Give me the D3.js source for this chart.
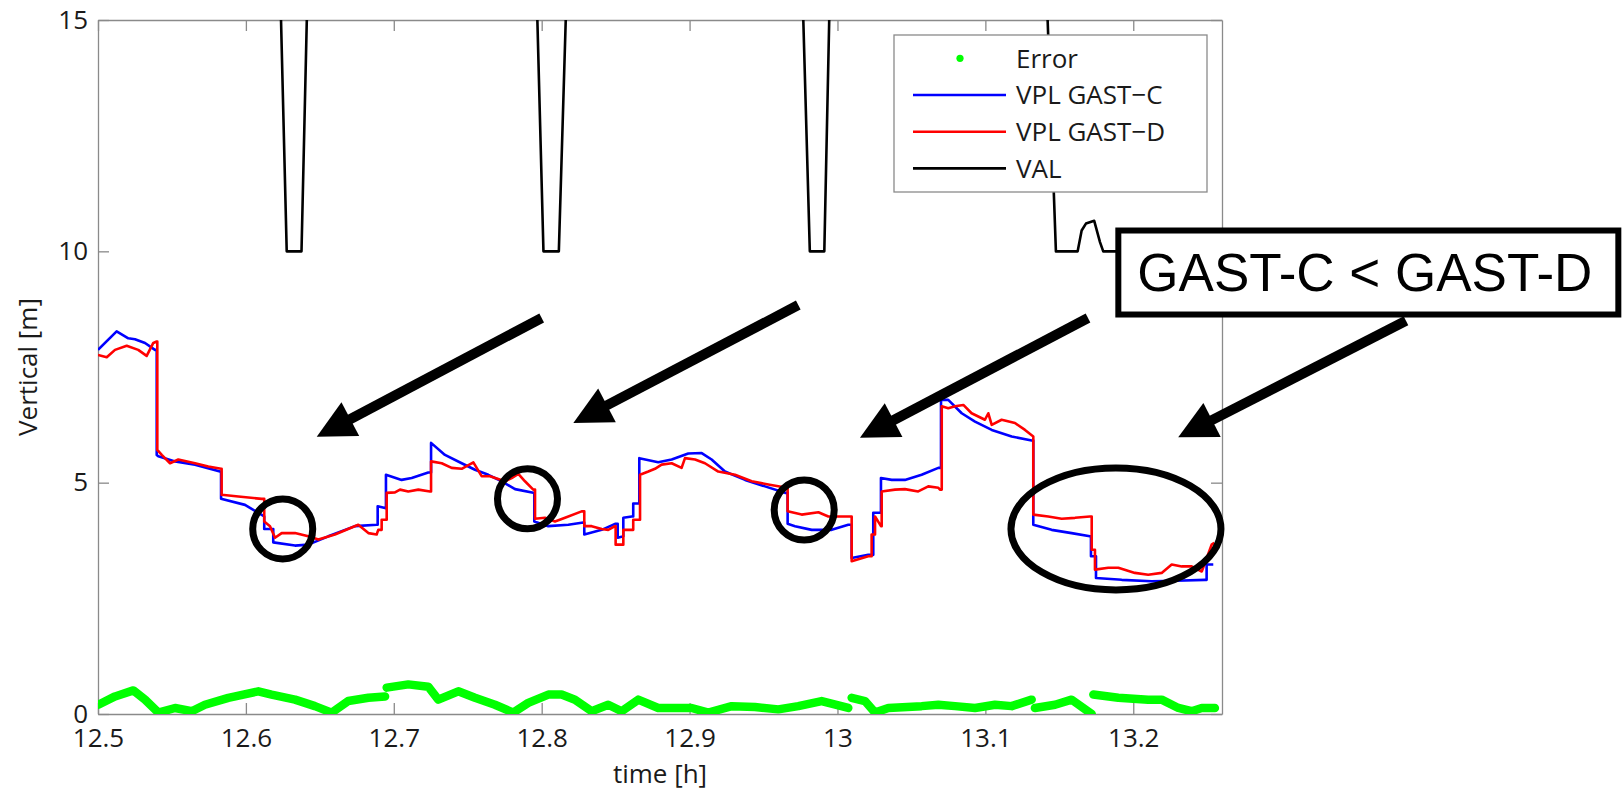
<!DOCTYPE html>
<html>
<head>
<meta charset="utf-8">
<title>VPL GAST-C vs GAST-D</title>
<script src="https://cdn.jsdelivr.net/npm/d3@7"></script>
<style>
    body { margin: 0; background: #fff; }
    #chart-area text { font-family: "Open Sans", "Noto Sans", sans-serif; fill: #1a1a1a; }
    .axis path, .axis line { stroke: #8a8a8a; stroke-width: 1.3px; }
</style>
</head>
<body>
<div id="chart-area"></div>
<script>

// axis ticks
var xTicks = [12.5, 12.6, 12.7, 12.8, 12.9, 13, 13.1, 13.2];
var yTicks = [0, 5, 10, 15];

// VPL GAST-C [time h, metres]
var vplGastC = [
    [12.500, 7.87], [12.5126, 8.27], [12.5205, 8.12], [12.525, 8.10], [12.5318, 8.02], [12.5385, 7.87],
    [12.5397, 7.87], [12.5397, 5.60], [12.5408, 5.57], [12.5521, 5.46], [12.5656, 5.39], [12.5825, 5.24],
    [12.5832, 5.24], [12.5832, 4.65], [12.5994, 4.52], [12.6124, 4.27], [12.6124, 4.00], [12.6185, 4.00],
    [12.6185, 3.71], [12.6332, 3.64], [12.6422, 3.66], [12.6557, 3.84], [12.6738, 4.06], [12.6884, 4.09],
    [12.6891, 4.09], [12.6891, 4.49], [12.6941, 4.45], [12.6947, 4.45], [12.6947, 5.17], [12.7053, 5.06],
    [12.7121, 5.10], [12.7233, 5.22], [12.7252, 5.22], [12.7252, 5.86], [12.7346, 5.60], [12.7459, 5.42],
    [12.7549, 5.28], [12.7639, 5.17], [12.7730, 5.03], [12.7820, 4.86], [12.7943, 4.78], [12.7950, 4.78],
    [12.7950, 4.16], [12.8045, 4.06], [12.8180, 4.09], [12.8281, 4.14], [12.8288, 4.14], [12.8288, 3.88],
    [12.8406, 3.98], [12.8496, 4.11], [12.8514, 4.11], [12.8514, 3.81], [12.8552, 3.84], [12.8552, 4.24],
    [12.8609, 4.27], [12.8619, 4.27], [12.8619, 4.55], [12.8660, 4.55], [12.8660, 5.53], [12.8788, 5.44],
    [12.8879, 5.50], [12.8991, 5.63], [12.9082, 5.64], [12.9149, 5.50], [12.9239, 5.24], [12.9375, 5.06],
    [12.9510, 4.92], [12.9645, 4.78], [12.9663, 4.78], [12.9663, 4.11], [12.9713, 4.06], [12.9826, 3.98],
    [12.9961, 3.98], [13.0073, 4.09], [13.0096, 4.09], [13.0096, 3.37], [13.0208, 3.44], [13.0242, 3.44],
    [13.0242, 4.35], [13.0294, 4.35], [13.0294, 5.10], [13.0367, 5.06], [13.0456, 5.06], [13.0569, 5.17],
    [13.0682, 5.32], [13.0700, 5.32], [13.0700, 6.79], [13.0749, 6.79], [13.0840, 6.50], [13.0930, 6.32],
    [13.1043, 6.14], [13.1178, 6.00], [13.1313, 5.91], [13.1324, 5.91], [13.1324, 4.09], [13.1448, 3.98],
    [13.1583, 3.91], [13.1707, 3.84], [13.1714, 3.84], [13.1714, 3.41], [13.1748, 3.41], [13.1748, 2.94],
    [13.1922, 2.90], [13.2124, 2.87], [13.2282, 2.88], [13.2485, 2.90], [13.2496, 2.90], [13.2496, 3.23],
    [13.2541, 3.23]
];

// VPL GAST-D
var vplGastD = [
    [12.500, 7.76], [12.5059, 7.71], [12.5115, 7.87], [12.5194, 7.96], [12.5272, 7.87], [12.5329, 7.74],
    [12.5374, 8.02], [12.5397, 8.05], [12.5401, 8.05], [12.5401, 5.71], [12.5431, 5.60], [12.5487, 5.42],
    [12.5543, 5.50], [12.5656, 5.42], [12.5746, 5.35], [12.5832, 5.30], [12.5836, 5.30], [12.5836, 4.74],
    [12.5949, 4.70], [12.6107, 4.65], [12.6124, 4.65], [12.6124, 4.16], [12.6163, 4.06], [12.6197, 3.81],
    [12.6242, 3.91], [12.6332, 3.91], [12.6422, 3.84], [12.6490, 3.77], [12.6602, 3.88], [12.6760, 4.09],
    [12.6828, 3.91], [12.6884, 3.88], [12.6895, 3.98], [12.6918, 3.98], [12.6918, 4.20], [12.6952, 4.20],
    [12.6952, 4.78], [12.7008, 4.79], [12.7042, 4.85], [12.7098, 4.81], [12.7166, 4.85], [12.7245, 4.81],
    [12.7252, 4.81], [12.7252, 5.46], [12.7324, 5.42], [12.7391, 5.32], [12.7459, 5.30], [12.7538, 5.44],
    [12.7594, 5.14], [12.7650, 5.14], [12.7752, 5.03], [12.7797, 5.10], [12.7842, 5.19], [12.7887, 5.03],
    [12.7943, 4.85], [12.7955, 4.85], [12.7955, 4.22], [12.8022, 4.24], [12.8090, 4.16], [12.8158, 4.24],
    [12.8270, 4.38], [12.8288, 4.38], [12.8288, 4.06], [12.8338, 4.06], [12.8406, 4.00], [12.8450, 3.98],
    [12.8496, 4.06], [12.8500, 4.06], [12.8500, 3.66], [12.8552, 3.66], [12.8552, 3.98], [12.8619, 3.98],
    [12.8619, 4.20], [12.8665, 4.20], [12.8665, 5.17], [12.8721, 5.24], [12.8766, 5.30], [12.8811, 5.39],
    [12.8879, 5.42], [12.8946, 5.32], [12.8969, 5.53], [12.9037, 5.50], [12.9104, 5.42], [12.9194, 5.24],
    [12.9307, 5.17], [12.9420, 5.03], [12.9532, 4.96], [12.9657, 4.89], [12.9663, 4.89], [12.9663, 4.38],
    [12.9758, 4.31], [12.9871, 4.36], [12.9938, 4.27], [13.0073, 4.27], [13.0096, 4.27], [13.0096, 3.30],
    [13.0208, 3.41], [13.0231, 3.41], [13.0231, 3.88], [13.0254, 3.88], [13.0254, 4.27], [13.0294, 4.06],
    [13.0299, 4.06], [13.0299, 4.81], [13.0389, 4.85], [13.0456, 4.86], [13.0546, 4.81], [13.0614, 4.92],
    [13.0682, 4.89], [13.0693, 4.85], [13.0705, 4.85], [13.0705, 6.65], [13.0749, 6.61], [13.0795, 6.65],
    [13.0851, 6.68], [13.0907, 6.50], [13.0997, 6.36], [13.1020, 6.50], [13.1043, 6.25], [13.1110, 6.36],
    [13.1200, 6.29], [13.1268, 6.14], [13.1324, 6.00], [13.1324, 4.31], [13.1425, 4.27], [13.1516, 4.22],
    [13.1606, 4.24], [13.1707, 4.27], [13.1719, 4.27], [13.1719, 3.55], [13.1741, 3.55], [13.1741, 3.12],
    [13.1831, 3.16], [13.1899, 3.16], [13.2011, 3.05], [13.2101, 3.01], [13.2192, 3.05], [13.2260, 3.23],
    [13.2328, 3.19], [13.2395, 3.19], [13.2463, 3.08], [13.2485, 3.27], [13.2530, 3.66], [13.2548, 3.70]
];

// vertical position error, null = gap in the record
var errorVert = [
    [12.5002, 0.20], [12.5115, 0.38], [12.5239, 0.51], [12.5318, 0.31], [12.5408, 0.03], [12.5521, 0.13],
    [12.5634, 0.06], [12.5723, 0.20], [12.5881, 0.35], [12.6084, 0.49], [12.6174, 0.42], [12.6332, 0.31],
    [12.6467, 0.17], [12.6580, 0.03], [12.6692, 0.28], [12.6828, 0.35], [12.6941, 0.38], [12.6946, null],
    [12.6952, 0.57], [12.7098, 0.64], [12.7233, 0.59], [12.7301, 0.31], [12.7436, 0.49], [12.7549, 0.35],
    [12.7684, 0.20], [12.7808, 0.03], [12.7909, 0.24], [12.8045, 0.42], [12.8135, 0.42], [12.8225, 0.31],
    [12.8338, 0.06], [12.8450, 0.20], [12.8541, 0.06], [12.8653, 0.31], [12.8788, 0.13], [12.8879, 0.13],
    [12.9014, 0.13], [12.9127, 0.03], [12.9285, 0.17], [12.9442, 0.15], [12.9600, 0.10], [12.9735, 0.17],
    [12.9893, 0.28], [13.0073, 0.13], [13.0085, null],
    [13.0096, 0.35], [13.0186, 0.28], [13.0254, 0.03], [13.0344, 0.13], [13.0569, 0.17], [13.0682, 0.20],
    [13.0795, 0.17], [13.0930, 0.13], [13.1065, 0.20], [13.1178, 0.17], [13.1313, 0.31], [13.1324, null],
    [13.1335, 0.13], [13.1471, 0.20], [13.1583, 0.31], [13.1719, 0.00], [13.1725, null],
    [13.1730, 0.42], [13.1899, 0.35], [13.2101, 0.31], [13.2192, 0.31], [13.2305, 0.13], [13.2395, 0.06],
    [13.2463, 0.13], [13.2552, 0.13]
];

// vertical alert limit (goes well above the axis between the dips)
var valLimit = [
    [12.500, 40], [12.6045, 40], [12.6276, 10], [12.6376, 10], [12.6591, 40],
    [12.7765, 40], [12.8012, 10], [12.8116, 10], [12.8396, 40],
    [12.9549, 40], [12.9813, 10], [12.9911, 10], [13.0110, 40],
    [13.1141, 40], [13.1477, 10], [13.1624, 10], [13.1651, 10.45], [13.1680, 10.60], [13.1736, 10.66],
    [13.1775, 10.20], [13.1797, 10], [13.2548, 10]
];

var legendLabels = ["Error", "VPL GAST\u2212C", "VPL GAST\u2212D", "VAL"];

// annotations, in data units
var arrowTails = [[12.8000, 8.56], [12.9735, 8.84], [13.1694, 8.56], [13.3844, 8.50]];
var arrowTips = [[12.6479, 5.99], [12.8214, 6.29], [13.0152, 5.97], [13.2304, 5.98]];
var circleCenters = [[12.6249, 4.00], [12.7904, 4.65], [12.9775, 4.41]];
var ellipseCenter = [13.1883, 4.00];
var noteCorner = [13.1899, 10.45];
var noteText = "GAST-C < GAST-D";


/*
 * VplChart - Object constructor function
 * @param _parentElement 	-- the HTML element in which to draw the chart
 */

VplChart = function(_parentElement){
    this.parentElement = _parentElement;
    this.initVis();
}


VplChart.prototype.initVis = function(){
    var vis = this;

    vis.margin = {top: 20, right: 402, bottom: 77, left: 98};
    vis.width = 1624 - vis.margin.left - vis.margin.right;
    vis.height = 791 - vis.margin.top - vis.margin.bottom;

    vis.root = d3.select("#" + vis.parentElement).append("svg")
        .attr("width", 1624)
        .attr("height", 791);

    vis.svg = vis.root.append("g")
        .attr("transform", "translate(" + vis.margin.left + "," + vis.margin.top + ")");

    vis.x = d3.scaleLinear()
        .domain([12.5, 13.26])
        .range([0, vis.width]);

    vis.y = d3.scaleLinear()
        .domain([0, 15])
        .range([vis.height, 0]);

    vis.svg.append("clipPath")
        .attr("id", "plot-clip")
        .append("rect")
        .attr("width", vis.width)
        .attr("height", vis.height);

    vis.updateVis();
}


VplChart.prototype.updateVis = function(){
    var vis = this;

    // axes, ticks point inwards on all four sides
    vis.xAxis = d3.axisBottom(vis.x)
        .tickValues(xTicks)
        .tickSizeInner(-11)
        .tickSizeOuter(0)
        .tickPadding(15)
        .tickFormat(function(d) { return +d.toFixed(1); });

    vis.yAxis = d3.axisLeft(vis.y)
        .tickValues(yTicks)
        .tickSizeInner(-11)
        .tickSizeOuter(0)
        .tickPadding(10);

    vis.svg.append("g")
        .attr("class", "x-axis axis")
        .attr("transform", "translate(0," + vis.height + ")")
        .call(vis.xAxis);

    vis.svg.append("g")
        .attr("class", "y-axis axis")
        .call(vis.yAxis);

    vis.svg.append("g")
        .attr("class", "axis")
        .call(d3.axisTop(vis.x).tickValues(xTicks).tickSizeInner(-11).tickSizeOuter(0).tickFormat(""));

    vis.svg.append("g")
        .attr("class", "axis")
        .attr("transform", "translate(" + vis.width + ",0)")
        .call(d3.axisRight(vis.y).tickValues(yTicks).tickSizeInner(-11).tickSizeOuter(0).tickFormat(""));

    vis.svg.selectAll(".axis text")
        .attr("font-size", 26)
        .attr("font-family", null);

    vis.svg.append("text")
        .attr("transform", "translate(-61," + (vis.height / 2) + ") rotate(-90)")
        .attr("text-anchor", "middle")
        .attr("font-size", 26)
        .text("Vertical [m]");

    vis.svg.append("text")
        .attr("x", vis.width / 2)
        .attr("y", vis.height + 69)
        .attr("text-anchor", "middle")
        .attr("font-size", 26)
        .text("time [h]");

    // series
    var line = d3.line()
        .defined(function(d) { return d[1] !== null; })
        .x(function(d) { return vis.x(d[0]); })
        .y(function(d) { return vis.y(d[1]); });

    var plot = vis.svg.append("g").attr("clip-path", "url(#plot-clip)");

    plot.append("path")
        .datum(errorVert)
        .attr("d", line)
        .attr("fill", "none")
        .attr("stroke", "#0f0")
        .attr("stroke-width", 8.5)
        .attr("stroke-linecap", "round")
        .attr("stroke-linejoin", "round");

    var series = [
        {data: vplGastC, color: "#0000ff"},
        {data: vplGastD, color: "#ff0000"},
        {data: valLimit, color: "#000000"}
    ];

    plot.selectAll(".series")
        .data(series)
        .enter().append("path")
        .attr("class", "series")
        .attr("d", function(d) { return line(d.data); })
        .attr("fill", "none")
        .attr("stroke", function(d) { return d.color; })
        .attr("stroke-width", 2.6)
        .attr("stroke-linejoin", "round");

    // legend
    var legend = vis.root.append("g")
        .attr("transform", "translate(894,35)");

    legend.append("rect")
        .attr("width", 313)
        .attr("height", 157)
        .attr("fill", "#fff")
        .attr("stroke", "#8a8a8a")
        .attr("stroke-width", 1.3);

    var rows = legend.selectAll(".legend-row")
        .data(legendLabels)
        .enter().append("g")
        .attr("class", "legend-row")
        .attr("transform", function(d, i) { return "translate(0," + (23.3 + i * 36.7) + ")"; });

    rows.filter(function(d, i) { return i > 0; })
        .append("line")
        .attr("x1", 19)
        .attr("x2", 112)
        .attr("stroke", function(d, i) { return series[i].color; })
        .attr("stroke-width", 2.6);

    rows.filter(function(d, i) { return i === 0; })
        .append("circle")
        .attr("cx", 66)
        .attr("r", 3.6)
        .attr("fill", "#0f0");

    rows.append("text")
        .attr("x", 122)
        .attr("dy", "0.36em")
        .attr("font-size", 26)
        .text(function(d) { return d; });

    // annotations on top
    var notes = vis.svg.append("g");

    arrowTips.forEach(function(tip, i) {
        var x0 = vis.x(arrowTails[i][0]), y0 = vis.y(arrowTails[i][1]);
        var x1 = vis.x(tip[0]), y1 = vis.y(tip[1]);
        var len = Math.hypot(x1 - x0, y1 - y0);
        var ux = (x1 - x0) / len, uy = (y1 - y0) / len;
        var headLen = 38, headHalf = 19;
        var bx = x1 - ux * headLen, by = y1 - uy * headLen;

        notes.append("line")
            .attr("x1", x0).attr("y1", y0)
            .attr("x2", bx + ux * 4).attr("y2", by + uy * 4)
            .attr("stroke", "#000")
            .attr("stroke-width", 10);

        notes.append("path")
            .attr("d", "M" + x1 + "," + y1 +
                "L" + (bx - uy * headHalf) + "," + (by + ux * headHalf) +
                "L" + (bx + uy * headHalf) + "," + (by - ux * headHalf) + "Z")
            .attr("fill", "#000");
    });

    notes.selectAll(".ring")
        .data(circleCenters)
        .enter().append("circle")
        .attr("class", "ring")
        .attr("cx", function(d) { return vis.x(d[0]); })
        .attr("cy", function(d) { return vis.y(d[1]); })
        .attr("r", 30)
        .attr("fill", "none")
        .attr("stroke", "#000")
        .attr("stroke-width", 7);

    notes.append("ellipse")
        .attr("cx", vis.x(ellipseCenter[0]))
        .attr("cy", vis.y(ellipseCenter[1]))
        .attr("rx", 105)
        .attr("ry", 61)
        .attr("fill", "none")
        .attr("stroke", "#000")
        .attr("stroke-width", 7);

    var nx = vis.x(noteCorner[0]), ny = vis.y(noteCorner[1]);

    notes.append("rect")
        .attr("x", nx)
        .attr("y", ny)
        .attr("width", 500)
        .attr("height", 84)
        .attr("fill", "#fff")
        .attr("stroke", "#000")
        .attr("stroke-width", 6);

    notes.append("text")
        .attr("x", nx + 19)
        .attr("y", ny + 60)
        .attr("font-size", 53)
        .style("font-family", "'Liberation Sans', Arial, sans-serif")
        .style("fill", "#000")
        .text(noteText);
}


var chart = new VplChart("chart-area");

</script>
</body>
</html>
